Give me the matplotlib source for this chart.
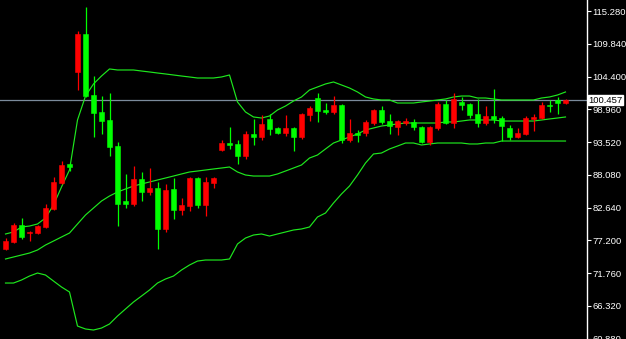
import numpy as np
import matplotlib.pyplot as plt
import matplotlib.transforms as mtransforms

# OHLC, one entry per candle (oldest first)
opens = [75.78, 76.94, 79.76, 78.38, 78.43, 79.43, 82.42, 86.73, 89.89, 105.15,
         111.46, 101.34, 98.52, 97.19, 92.87, 83.74, 83.25, 87.40, 85.24, 85.90,
         79.10, 85.74, 82.25, 82.91, 87.57, 83.08, 86.73, 92.21, 93.37, 93.20,
         91.21, 94.87, 94.37, 97.36, 95.86, 95.03, 95.86, 94.37, 98.02, 100.84,
         98.85, 98.52, 99.68, 93.87, 95.03, 95.03, 96.69, 98.85, 97.02, 96.03,
         96.69, 96.86, 96.03, 93.54, 95.86, 99.85, 96.69, 100.18, 99.85, 98.19,
         96.69, 97.86, 97.52, 95.86, 94.37, 94.87, 97.36, 97.52, 99.68, 100.51,
         100.01]
highs = [77.60, 80.09, 80.92, 78.77, 79.76, 83.25, 87.73, 90.38, 90.05, 111.96,
         115.94, 104.49, 101.17, 101.67, 93.54, 88.23, 89.55, 88.56, 89.22, 86.90,
         86.57, 87.57, 84.25, 87.73, 87.73, 87.73, 87.73, 93.87, 96.03, 93.87,
         95.36, 97.36, 98.02, 98.19, 96.03, 98.02, 96.03, 98.35, 99.51, 101.67,
         100.01, 101.17, 99.85, 97.36, 95.53, 97.19, 99.01, 99.51, 98.19, 97.19,
         97.52, 97.36, 96.19, 96.19, 100.18, 100.51, 101.67, 101.01, 100.01, 100.67,
         99.51, 102.33, 97.86, 96.36, 95.86, 97.86, 98.19, 100.18, 100.51, 101.01,
         100.67]
lows = [75.61, 76.77, 77.44, 77.10, 78.27, 79.26, 82.30, 86.57, 88.73, 102.17,
        101.01, 94.37, 94.87, 91.21, 79.59, 82.58, 82.91, 83.74, 84.74, 75.78,
        78.60, 80.76, 81.42, 82.09, 82.58, 81.26, 85.90, 92.04, 92.38, 89.89,
        90.72, 93.04, 93.87, 94.70, 94.87, 94.53, 92.04, 94.04, 97.02, 96.86,
        98.19, 98.19, 93.37, 93.54, 93.54, 94.53, 96.36, 96.53, 94.87, 94.70,
        96.36, 95.53, 93.37, 93.04, 95.53, 96.53, 95.86, 98.85, 97.52, 96.03,
        96.36, 96.69, 93.70, 93.87, 94.20, 94.70, 95.36, 97.36, 98.52, 98.19,
        99.85]
closes = [77.16, 79.76, 77.77, 78.65, 79.59, 82.58, 86.90, 89.72, 89.39, 111.46,
          101.17, 98.35, 97.02, 92.71, 83.25, 83.25, 87.40, 85.24, 85.90, 79.10,
          85.57, 82.25, 83.08, 87.57, 83.08, 86.90, 87.57, 93.37, 93.04, 91.21,
          94.87, 94.37, 96.53, 95.70, 95.03, 95.86, 94.37, 98.19, 99.18, 98.68,
          98.52, 99.68, 93.87, 95.03, 94.70, 96.86, 98.85, 96.86, 96.19, 97.02,
          97.02, 96.03, 93.54, 96.03, 99.85, 96.69, 100.67, 99.68, 98.02, 96.69,
          97.86, 97.36, 96.19, 94.37, 95.03, 97.52, 97.69, 99.68, 99.51, 100.01,
          100.46]

# Bollinger bands as drawn
upper_band = [78.27, 78.60, 79.43, 79.59, 79.93, 80.92, 83.08, 86.07, 88.89, 97.19,
              101.17, 103.17, 104.49, 105.66, 105.49, 105.49, 105.49, 105.32, 105.16, 104.99,
              104.83, 104.66, 104.49, 104.33, 104.16, 104.16, 104.16, 104.33, 104.66, 100.18,
              98.52, 97.69, 97.52, 97.85, 98.85, 99.51, 100.34, 101.01, 102.17, 102.67,
              103.17, 103.50, 103.00, 102.50, 101.84, 101.01, 100.68, 100.51, 100.51, 100.01,
              100.01, 100.01, 100.18, 100.34, 100.51, 100.68, 101.01, 101.17, 101.17, 100.84,
              100.84, 100.68, 100.51, 100.51, 100.51, 100.51, 100.51, 100.84, 101.01, 101.34,
              101.84]
middle_band = [74.12, 74.45, 74.78, 75.11, 75.61, 76.44, 77.10, 77.77, 78.43, 79.93,
               81.42, 82.58, 83.74, 84.57, 85.24, 85.74, 86.23, 86.57, 86.90, 87.23,
               87.56, 87.89, 88.23, 88.56, 88.72, 88.89, 89.06, 89.22, 89.39, 88.56,
               88.06, 87.89, 87.89, 87.89, 88.23, 88.72, 89.22, 89.72, 90.88, 91.38,
               92.38, 93.37, 93.87, 94.37, 94.87, 95.53, 95.86, 96.19, 96.36, 96.53,
               96.69, 96.69, 96.69, 96.69, 96.69, 96.86, 96.86, 97.02, 97.19, 97.19,
               97.19, 97.19, 97.02, 97.02, 97.02, 97.02, 97.02, 97.19, 97.36, 97.52,
               97.69]
lower_band = [70.13, 70.13, 70.63, 71.29, 71.79, 71.46, 70.46, 69.47, 68.64, 62.99,
              62.50, 62.33, 62.66, 63.33, 64.65, 65.82, 66.98, 67.97, 68.97, 70.13,
              70.80, 71.29, 72.29, 73.12, 73.78, 73.95, 73.95, 73.95, 74.12, 76.61,
              77.60, 78.10, 78.27, 77.93, 78.27, 78.60, 78.93, 79.10, 79.43, 81.09,
              81.75, 83.41, 84.91, 86.23, 88.06, 90.05, 91.55, 91.71, 92.38, 92.87,
              93.37, 93.37, 93.04, 93.21, 93.37, 93.37, 93.37, 93.37, 93.21, 93.21,
              93.37, 93.37, 93.70, 93.70, 93.70, 93.70, 93.70, 93.70, 93.70, 93.70,
              93.70]

price_ticks = [115.28, 109.84, 104.40, 98.96, 93.52, 88.08, 82.64, 77.20, 71.76, 66.32, 60.88]
last_price = 100.457

bull_color = '#ff0000'
bear_color = '#00ff00'
band_color = '#1ee81e'

plt.rcParams['font.family'] = ['Liberation Sans Narrow', 'Liberation Sans', 'DejaVu Sans']

o = np.array(opens)
c = np.array(closes)
x = np.arange(len(o))
up = c >= o
cols = np.where(up, bull_color, bear_color)

fig = plt.figure(figsize=(6.26, 3.39), dpi=100, facecolor='black')
ax = fig.add_axes([0, 0, 587 / 626, 1])
ax.set_facecolor('black')

ax.vlines(x, lows, highs, colors=cols, linewidth=0.9, zorder=3)
ax.bar(x, np.abs(c - o), bottom=np.minimum(o, c), width=0.7, color=cols,
       edgecolor=cols, linewidth=0.4, zorder=4)

for band in (upper_band, middle_band, lower_band):
    ax.plot(x, band, color=band_color, linewidth=0.85, zorder=2)

ax.axhline(last_price, color='#7b8b9c', linewidth=0.9, zorder=1)

ax.set_xlim(-5.5 / 8, -5.5 / 8 + 587 / 8)
ax.set_ylim(60.84, 117.106)

for s in ('top', 'bottom', 'left'):
    ax.spines[s].set_visible(False)
ax.spines['right'].set_color('white')
ax.spines['right'].set_linewidth(1)

ax.set_xticks([])
ax.yaxis.tick_right()
ax.set_yticks(price_ticks)
ax.set_yticklabels([f'{t:.3f}' for t in price_ticks])
ax.tick_params(axis='y', colors='white', length=3, width=0.8, labelsize=6.8, pad=1.0)

trans = mtransforms.blended_transform_factory(ax.transAxes, ax.transData)
ax.text(1.003, last_price, f'{last_price:.3f}', transform=trans, ha='left', va='center',
        fontsize=6.8, color='black', zorder=10, clip_on=False,
        bbox=dict(boxstyle='square,pad=0.05', facecolor='white', edgecolor='white'))

fig.savefig('out.png', dpi=100, facecolor='black')
